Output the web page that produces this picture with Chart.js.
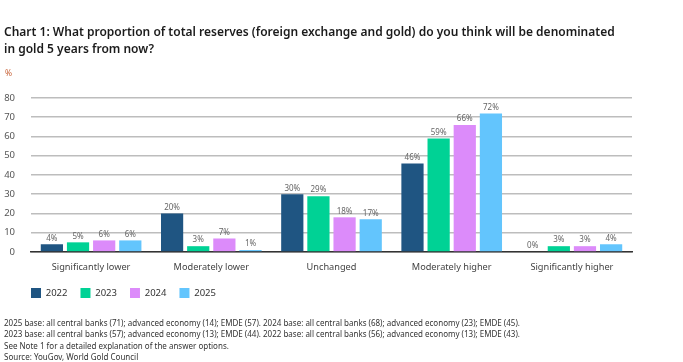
<!DOCTYPE html>
<html>
<head>
<meta charset="utf-8">
<script src="https://cdn.jsdelivr.net/npm/chart.js@4.4.1/dist/chart.umd.min.js"></script>
<style>
  body { margin: 0; width: 683px; height: 362px; position: relative; overflow: hidden; background: #fff; font-family: "Noto Sans", sans-serif; }
  #c { position: absolute; left: 0; top: 0; }
  .title { position: absolute; left: 4px; top: 23px; font-size: 12px; font-weight: 600; line-height: 17px; color: #1b1b1b; }
  .unit { position: absolute; left: 5px; top: 67px; font-size: 8.5px; color: #c8643a; }
  .notes { position: absolute; left: 4px; top: 317px; font-size: 8px; line-height: 11.3px; color: #333; }
</style>
</head>
<body>
<canvas id="c" width="683" height="362"></canvas>
<div class="title">Chart 1: What proportion of total reserves (foreign exchange and gold) do you think will be denominated<br>in gold 5 years from now?</div>
<div class="unit">%</div>
<div class="notes">2025 base: all central banks (71); advanced economy (14); EMDE (57). 2024 base: all central banks (68); advanced economy (23); EMDE (45).<br>2023 base: all central banks (57); advanced economy (13); EMDE (44). 2022 base: all central banks (56); advanced economy (13); EMDE (43).<br>See Note 1 for a detailed explanation of the answer options.<br>Source: YouGov, World Gold Council</div>
<script>
const categories = ['Significantly lower', 'Moderately lower', 'Unchanged', 'Moderately higher', 'Significantly higher'];
const years = ['2022', '2023', '2024', '2025'];
const values2022 = [4, 20, 30, 46, 0];
const values2023 = [5, 3, 29, 59, 3];
const values2024 = [6, 7, 18, 66, 3];
const values2025 = [6, 1, 17, 72, 4];
const yTicks = [0, 10, 20, 30, 40, 50, 60, 70, 80];
const colors = ['#1f5582', '#00d295', '#dc8bfa', '#63c5fd'];

const allValues = [values2022, values2023, values2024, values2025];

// labels above each bar
const barLabels = {
    id: 'barLabels',
    afterDatasetsDraw(chart) {
        const ctx = chart.ctx;
        ctx.save();
        ctx.font = '8px "Noto Sans"';
        ctx.fillStyle = '#666';
        ctx.textAlign = 'center';
        ctx.textBaseline = 'bottom';
        chart.data.datasets.forEach((ds, i) => {
            chart.getDatasetMeta(i).data.forEach((bar, j) => {
                ctx.fillText(ds.data[j] + '%', bar.x, bar.y - 2);
            });
        });
        ctx.restore();
    }
};

// push legend over to line up with the plot
const legendShift = {
    id: 'legendShift',
    afterLayout(chart) {
        chart.legend.left = 18;
    }
};

new Chart(document.getElementById('c'), {
    type: 'bar',
    data: {
        labels: categories,
        datasets: years.map((y, i) => ({
            label: y,
            data: allValues[i],
            backgroundColor: colors[i],
            categoryPercentage: 0.87,
            barPercentage: 0.85
        }))
    },
    options: {
        responsive: false,
        animation: false,
        layout: { padding: { left: 3, right: 51, top: 98, bottom: 54 } },
        plugins: {
            legend: {
                position: 'bottom',
                align: 'start',
                labels: {
                    boxWidth: 10,
                    boxHeight: 10,
                    padding: 13,
                    color: '#333',
                    font: { family: '"Noto Sans"', size: 9.5 }
                }
            },
            tooltip: { enabled: false }
        },
        scales: {
            x: {
                grid: { display: false },
                border: { color: '#333', width: 1.5 },
                ticks: { color: '#444', font: { family: '"Noto Sans"', size: 9.2 }, padding: 2 }
            },
            y: {
                min: 0,
                max: 80,
                afterFit(scale) { scale.width = 28; },
                afterBuildTicks(scale) { scale.ticks = yTicks.map(v => ({ value: v })); },
                grid: { color: '#bdbdbd', lineWidth: 1.5, drawTicks: false },
                border: { display: false },
                ticks: { color: '#555', font: { family: '"Noto Sans"', size: 9.5 }, padding: 16 }
            }
        }
    },
    plugins: [barLabels, legendShift]
});
</script>
</body>
</html>
